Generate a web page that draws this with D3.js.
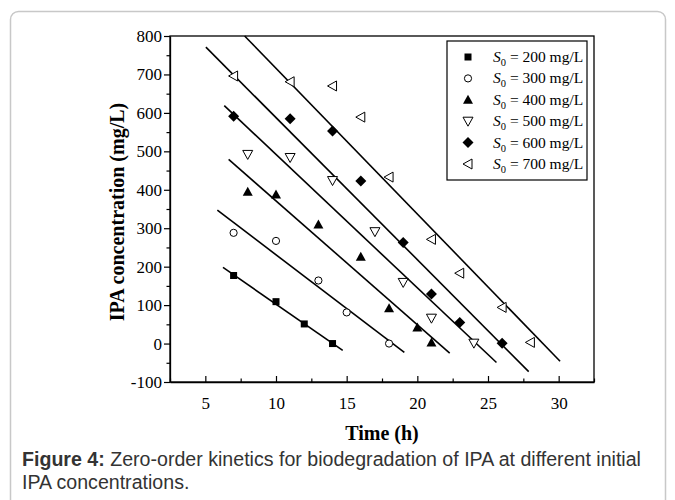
<!DOCTYPE html>
<html>
<head>
<meta charset="utf-8">
<script src="https://cdn.jsdelivr.net/npm/d3@7"></script>
<style>
  body { margin: 0; background: #fff; }
  svg { display: block; }
</style>
</head>
<body>
<svg id="chart" width="675" height="500"></svg>
<script>
// concentrations (mg/L) at each sampling time, one list per initial S0
const series = ["200", "300", "400", "500", "600", "700"];
const times200 = [7, 10, 12, 14];
const vals200 = [177, 109, 51, 0];
const times300 = [7, 10, 13, 15, 18];
const vals300 = [288, 267, 164, 81, 0];
const times400 = [8, 10, 13, 16, 18, 20, 21];
const vals400 = [395, 388, 310, 226, 92, 42, 3];
const times500 = [8, 11, 14, 17, 19, 21, 24];
const vals500 = [492, 484, 424, 291, 159, 66, 1];
const times600 = [7, 11, 14, 16, 19, 21, 23, 26];
const vals600 = [591, 585, 553, 423, 263, 129, 55, 1];
const times700 = [7, 11, 14, 16, 18, 21, 23, 26, 28];
const vals700 = [696, 681, 670, 589, 433, 271, 183, 94, 3];

// zero-order fit lines: C = intercept + slope * t, drawn from tStart to tEnd
const fitIntercept = [357.4, 510.6, 693, 839, 957.2, 1094.9];
const fitSlope = [-25.5, -27.97, -32.2, -34.7, -36.95, -37.9];
const fitStart = [6.25, 5.85, 6.65, 6.34, 5.04, 7.78];
const fitEnd = [14.72, 19.08, 22.29, 25.6, 27.88, 30.1];

const xTicks = [5, 10, 15, 20, 25, 30];
const yTicks = [-100, 0, 100, 200, 300, 400, 500, 600, 700, 800];

const allTimes = [times200, times300, times400, times500, times600, times700];
const allVals = [vals200, vals300, vals400, vals500, vals600, vals700];

const svg = d3.select("#chart");
const serif = "'Liberation Serif', 'Times New Roman', serif";

// page card
svg.append("rect")
  .attr("x", 10.5).attr("y", 11.5)
  .attr("width", 655).attr("height", 520)
  .attr("rx", 8)
  .attr("fill", "#fff")
  .attr("stroke", "#c8c8c8")
  .attr("stroke-width", 1.5);

const plotL = 170, plotR = 594, plotT = 36, plotB = 382;

const x = d3.scaleLinear().domain([2.5, 32.5]).range([plotL, plotR]);
const y = d3.scaleLinear().domain([-100, 800]).range([plotB, plotT]);
const plain = (d) => String(d);

// frame
svg.append("rect")
  .attr("x", plotL).attr("y", plotT)
  .attr("width", plotR - plotL).attr("height", plotB - plotT)
  .attr("fill", "none")
  .attr("stroke", "#000")
  .attr("stroke-width", 1.3);

// x axis: ticks point inward
const xAxis = svg.append("g").attr("transform", `translate(0,${plotB})`);
xAxis.call(d3.axisBottom(x).tickValues(xTicks).tickFormat(plain)
  .tickSize(-6).tickPadding(15).tickSizeOuter(0));
svg.append("g").attr("transform", `translate(0,${plotB})`)
  .call(d3.axisBottom(x).tickValues(d3.range(2.5, 33, 5)).tickSize(-3.5).tickFormat("").tickSizeOuter(0))
  .select(".domain").remove();

// y axis: ticks point outward
const yAxis = svg.append("g").attr("transform", `translate(${plotL},0)`);
yAxis.call(d3.axisLeft(y).tickValues(yTicks).tickFormat(plain)
  .tickSize(6).tickPadding(2).tickSizeOuter(0));
svg.append("g").attr("transform", `translate(${plotL},0)`)
  .call(d3.axisLeft(y).tickValues(d3.range(-50, 800, 100)).tickSize(3.5).tickFormat("").tickSizeOuter(0))
  .select(".domain").remove();

svg.selectAll(".tick line").attr("stroke", "#000").attr("stroke-width", 1.2);
svg.selectAll(".domain").attr("stroke", "#000").attr("stroke-width", 1.3);
svg.selectAll(".tick text")
  .attr("font-family", serif)
  .attr("font-size", 17)
  .attr("fill", "#000");

// axis titles
svg.append("text")
  .attr("x", (plotL + plotR) / 2)
  .attr("y", 440)
  .attr("text-anchor", "middle")
  .attr("font-family", serif)
  .attr("font-size", 20)
  .attr("font-weight", "bold")
  .text("Time (h)");

svg.append("text")
  .attr("transform", `translate(124,${(plotT + plotB) / 2 + 3}) rotate(-90)`)
  .attr("text-anchor", "middle")
  .attr("font-family", serif)
  .attr("font-size", 20)
  .attr("font-weight", "bold")
  .text("IPA concentration (mg/L)");

// fit lines
series.forEach((s, i) => {
  const t0 = fitStart[i], t1 = fitEnd[i];
  svg.append("line")
    .attr("x1", x(t0))
    .attr("y1", y(fitIntercept[i] + fitSlope[i] * t0))
    .attr("x2", x(t1))
    .attr("y2", y(fitIntercept[i] + fitSlope[i] * t1))
    .attr("stroke", "#000")
    .attr("stroke-width", 1.6);
});

// marker drawing
const drawMarker = (g, i, cx, cy) => {
  if (i === 0) {
    g.append("rect").attr("x", cx - 3.5).attr("y", cy - 3.5)
      .attr("width", 7).attr("height", 7).attr("fill", "#000");
  } else if (i === 1) {
    g.append("circle").attr("cx", cx).attr("cy", cy).attr("r", 3.6)
      .attr("fill", "#fff").attr("stroke", "#000").attr("stroke-width", 1);
  } else if (i === 2) {
    g.append("path")
      .attr("d", `M${cx},${cy - 5}L${cx + 5},${cy + 4}L${cx - 5},${cy + 4}Z`)
      .attr("fill", "#000");
  } else if (i === 3) {
    g.append("path")
      .attr("d", `M${cx - 5},${cy - 4}L${cx + 5},${cy - 4}L${cx},${cy + 5}Z`)
      .attr("fill", "#fff").attr("stroke", "#000").attr("stroke-width", 1);
  } else if (i === 4) {
    g.append("path")
      .attr("d", `M${cx},${cy - 5.5}L${cx + 5.5},${cy}L${cx},${cy + 5.5}L${cx - 5.5},${cy}Z`)
      .attr("fill", "#000");
  } else {
    g.append("path")
      .attr("d", `M${cx - 5},${cy}L${cx + 4},${cy - 5}L${cx + 4},${cy + 5}Z`)
      .attr("fill", "#fff").attr("stroke", "#000").attr("stroke-width", 1);
  }
};

const pts = svg.append("g");
series.forEach((s, i) => {
  allTimes[i].forEach((t, j) => {
    drawMarker(pts, i, x(t), y(allVals[i][j]));
  });
});

// legend
const legX = 447, legY = 41, legW = 140, legH = 139;
svg.append("rect")
  .attr("x", legX).attr("y", legY)
  .attr("width", legW).attr("height", legH)
  .attr("fill", "#fff")
  .attr("stroke", "#000")
  .attr("stroke-width", 1.2);

const leg = svg.append("g");
series.forEach((s, i) => {
  const ry = 57 + i * 21.4;
  drawMarker(leg, i, 468, ry);
  const t = leg.append("text")
    .attr("x", 493)
    .attr("y", ry + 5)
    .attr("font-family", serif)
    .attr("font-size", 15.5)
    .attr("fill", "#000");
  t.append("tspan").attr("font-style", "italic").text("S");
  t.append("tspan").attr("font-size", 10.5).attr("dy", 4).text("0");
  t.append("tspan").attr("dy", -4).text(` = ${s} mg/L`);
});

// caption
const capFont = "'Liberation Sans', Arial, sans-serif";
const cap = svg.append("text")
  .attr("x", 22)
  .attr("y", 466)
  .attr("font-family", capFont)
  .attr("font-size", 19.6)
  .attr("fill", "#333");
cap.append("tspan").attr("font-weight", "bold").text("Figure 4:");
cap.append("tspan").text(" Zero-order kinetics for biodegradation of IPA at different initial");
svg.append("text")
  .attr("x", 22)
  .attr("y", 489)
  .attr("font-family", capFont)
  .attr("font-size", 19.6)
  .attr("fill", "#333")
  .text("IPA concentrations.");
</script>
</body>
</html>
